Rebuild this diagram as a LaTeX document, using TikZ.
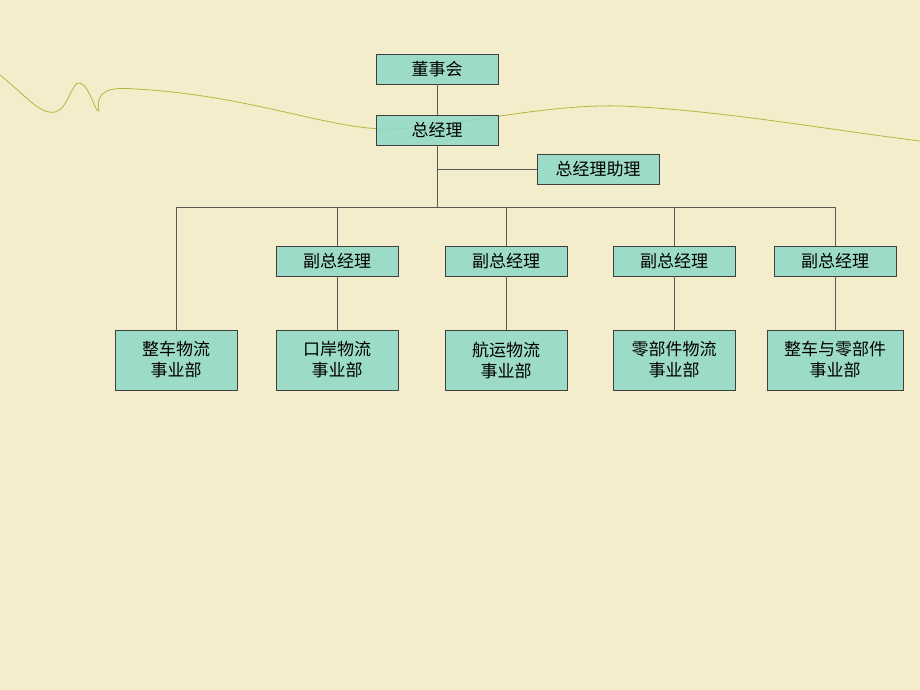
\documentclass[tikz,border=0pt]{standalone}
\usepackage{fontspec}
\newfontfamily\cjk{Noto Sans CJK SC}
\usetikzlibrary{positioning}
\definecolor{paper}{HTML}{F3EDCC}
\definecolor{boxfill}{HTML}{8ED9C9}
\definecolor{wave}{HTML}{B4B83C}
\tikzset{
  font=\cjk\fontsize{17}{21}\selectfont,
  org box/.style={
    draw=black!75,
    fill=boxfill,
    fill opacity=0.85,
    text opacity=1,
    thick,
    minimum width=122pt,
    minimum height=30pt,
    inner sep=1pt,
    align=center
  },
  unit box/.style={
    org box,
    minimum height=60pt
  },
  link/.style={
    draw=black!65,
    thick
  }
}
\begin{document}
\begin{tikzpicture}[x=1pt,y=-1pt]
\fill[paper] (0,0) rectangle (920,690);
\useasboundingbox (0,0) rectangle (920,690);
% decorative curve
\draw[wave,thick] (0,75) .. controls (25,95) and (40,115) .. (55,112)
  .. controls (68,110) and (72,80) .. (80,83)
  .. controls (90,86) and (96,115) .. (99,111)
  .. controls (95,90) and (110,87) .. (135,89)
  .. controls (250,95) and (330,130) .. (390,129)
  .. controls (450,128) and (540,104) .. (620,106)
  .. controls (720,110) and (830,130) .. (920,141);
% top
\node[org box] (board) at (437,69) {董事会};
\node[org box] (ceo) at (437,130) {总经理};
\node[org box] (assist) at (598,169) {总经理助理};
\coordinate (split) at (437,207);
% vice presidents
\node[org box] (vp1) at (337,261) {副总经理};
\node[org box] (vp2) at (506,261) {副总经理};
\node[org box] (vp3) at (674,261) {副总经理};
\node[org box] (vp4) at (835,261) {副总经理};
% divisions
\node[unit box] (d0) at (176,360) {整车物流\\事业部};
\node[unit box] (d1) at (337,360) {口岸物流\\事业部};
\node[unit box] (d2) at (506,360) {航运物流\\事业部};
\node[unit box] (d3) at (674,360) {零部件物流\\事业部};
\node[unit box,minimum width=136pt] (d4) at (835,360) {整车与零部件\\事业部};
\path[link]
  (board) -- (ceo)
  (ceo) -- (split)
  (ceo |- assist) -- (assist)
  (d0 |- split) -- (d4 |- split)
  (d0 |- split) -- (d0)
  (vp1 |- split) -- (vp1) -- (d1)
  (vp2 |- split) -- (vp2) -- (d2)
  (vp3 |- split) -- (vp3) -- (d3)
  (vp4 |- split) -- (vp4) -- (d4);
\end{tikzpicture}
\end{document}
